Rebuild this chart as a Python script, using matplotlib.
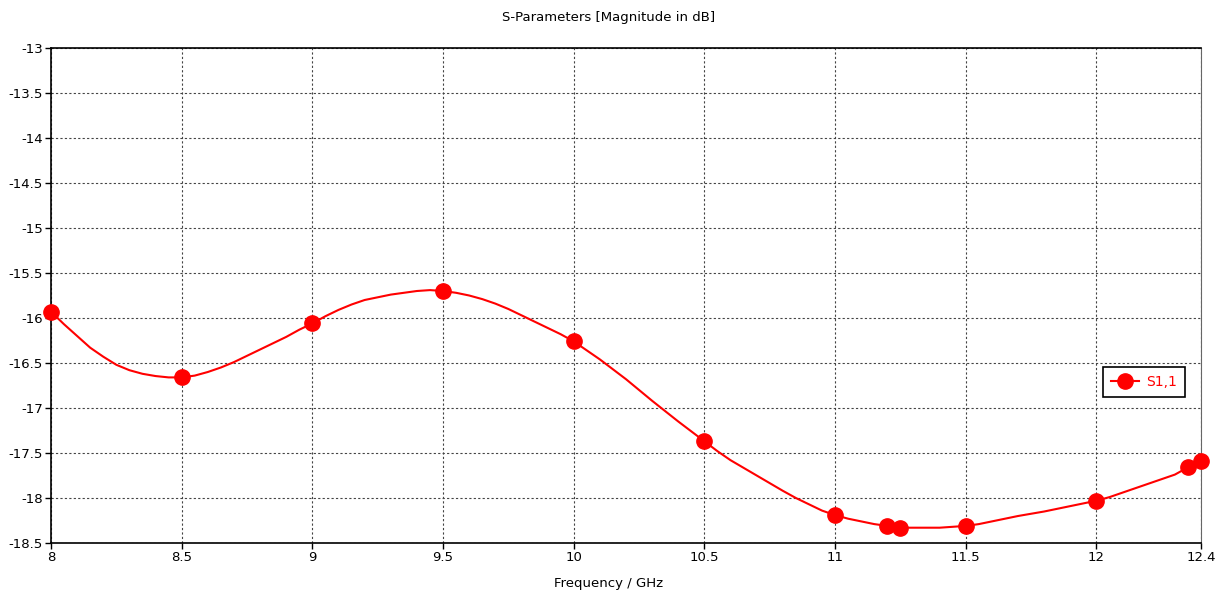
import matplotlib
matplotlib.use("Agg")
import matplotlib.pyplot as plt

# S1,1 curve (GHz, dB)
freq = [8.0, 8.05, 8.1, 8.15, 8.2, 8.25, 8.3, 8.35, 8.4, 8.45,
        8.5, 8.55, 8.6, 8.65, 8.7, 8.75, 8.8, 8.85, 8.9, 8.95,
        9.0, 9.05, 9.1, 9.15, 9.2, 9.25, 9.3, 9.35, 9.4, 9.45,
        9.5, 9.55, 9.6, 9.65, 9.7, 9.75, 9.8, 9.85, 9.9, 9.95,
        10.0, 10.05, 10.1, 10.15, 10.2, 10.3, 10.4, 10.5, 10.55, 10.6, 10.7,
        10.8, 10.85, 10.9, 10.95, 11.0, 11.05, 11.1, 11.15, 11.2, 11.25,
        11.3, 11.4, 11.5, 11.55, 11.6, 11.7, 11.8, 11.9, 12.0, 12.05, 12.1,
        12.15, 12.2, 12.25, 12.3, 12.35, 12.4]
s11 = [-15.93, -16.07, -16.20, -16.33, -16.43, -16.52, -16.58, -16.62, -16.645, -16.66,
       -16.66, -16.64, -16.60, -16.55, -16.49, -16.42, -16.35, -16.28, -16.21, -16.13,
       -16.06, -15.98, -15.91, -15.85, -15.80, -15.77, -15.74, -15.72, -15.70, -15.69,
       -15.70, -15.72, -15.75, -15.79, -15.84, -15.90, -15.97, -16.04, -16.11, -16.18,
       -16.26, -16.36, -16.46, -16.57, -16.68, -16.92, -17.15, -17.37, -17.48, -17.58, -17.75,
       -17.92, -18.00, -18.07, -18.14, -18.19, -18.23, -18.26, -18.29, -18.31, -18.33,
       -18.33, -18.33, -18.31, -18.29, -18.26, -18.20, -18.15, -18.09, -18.03, -17.99, -17.94,
       -17.89, -17.84, -17.79, -17.74, -17.66, -17.59]

# marker positions
mark_freq = [8, 8.5, 9, 9.5, 10, 10.5, 11, 11.2, 11.25, 11.5, 12, 12.35, 12.4]

xticks = [8, 8.5, 9, 9.5, 10, 10.5, 11, 11.5, 12, 12.4]
xlabels = ["8", "8.5", "9", "9.5", "10", "10.5", "11", "11.5", "12", "12.4"]
yticks = [-13, -13.5, -14, -14.5, -15, -15.5, -16, -16.5, -17, -17.5, -18, -18.5]
ylabels = ["-13", "-13.5", "-14", "-14.5", "-15", "-15.5", "-16", "-16.5", "-17", "-17.5", "-18", "-18.5"]

plt.rcParams['font.family'] = ['DejaVu Sans']
plt.rcParams['font.size'] = 9.5

fig = plt.figure(figsize=(12.18, 5.92), dpi=100)
ax = fig.add_axes([51 / 1218, 1 - 543 / 592, 1150 / 1218, 495 / 592])

mark_idx = [freq.index(f) for f in mark_freq]
ax.plot(freq, s11, color="red", linewidth=1.5, marker="o", markersize=11,
        markevery=mark_idx, label="S1,1", zorder=3, clip_on=False)

ax.set_xlim(8, 12.4)
ax.set_ylim(-18.5, -13)
ax.set_xticks(xticks)
ax.set_xticklabels(xlabels)
ax.set_yticks(yticks)
ax.set_yticklabels(ylabels)
ax.tick_params(direction="out", length=4, width=1, color="black", pad=2)

ax.grid(True, color="#444444", linestyle=(0, (2, 2)), linewidth=0.8)
for s in ["left", "bottom", "top"]:
    ax.spines[s].set_color("black")
    ax.spines[s].set_linewidth(1.2)
ax.spines["right"].set_color("#666666")

fig.text(0.5, 1 - 17 / 592, "S-Parameters [Magnitude in dB]", ha="center", va="center")
fig.text(0.5, 1 - 583 / 592, "Frequency / GHz", ha="center", va="center")

leg = ax.legend(loc="center right", bbox_to_anchor=(0.992, 0.325), fancybox=False,
                framealpha=1, edgecolor="black", handlelength=2.0, borderpad=0.6,
                handletextpad=0.5, fontsize=10)
leg.get_frame().set_linewidth(1.2)
for t in leg.get_texts():
    t.set_color("red")

fig.savefig("out.png", dpi=100)
